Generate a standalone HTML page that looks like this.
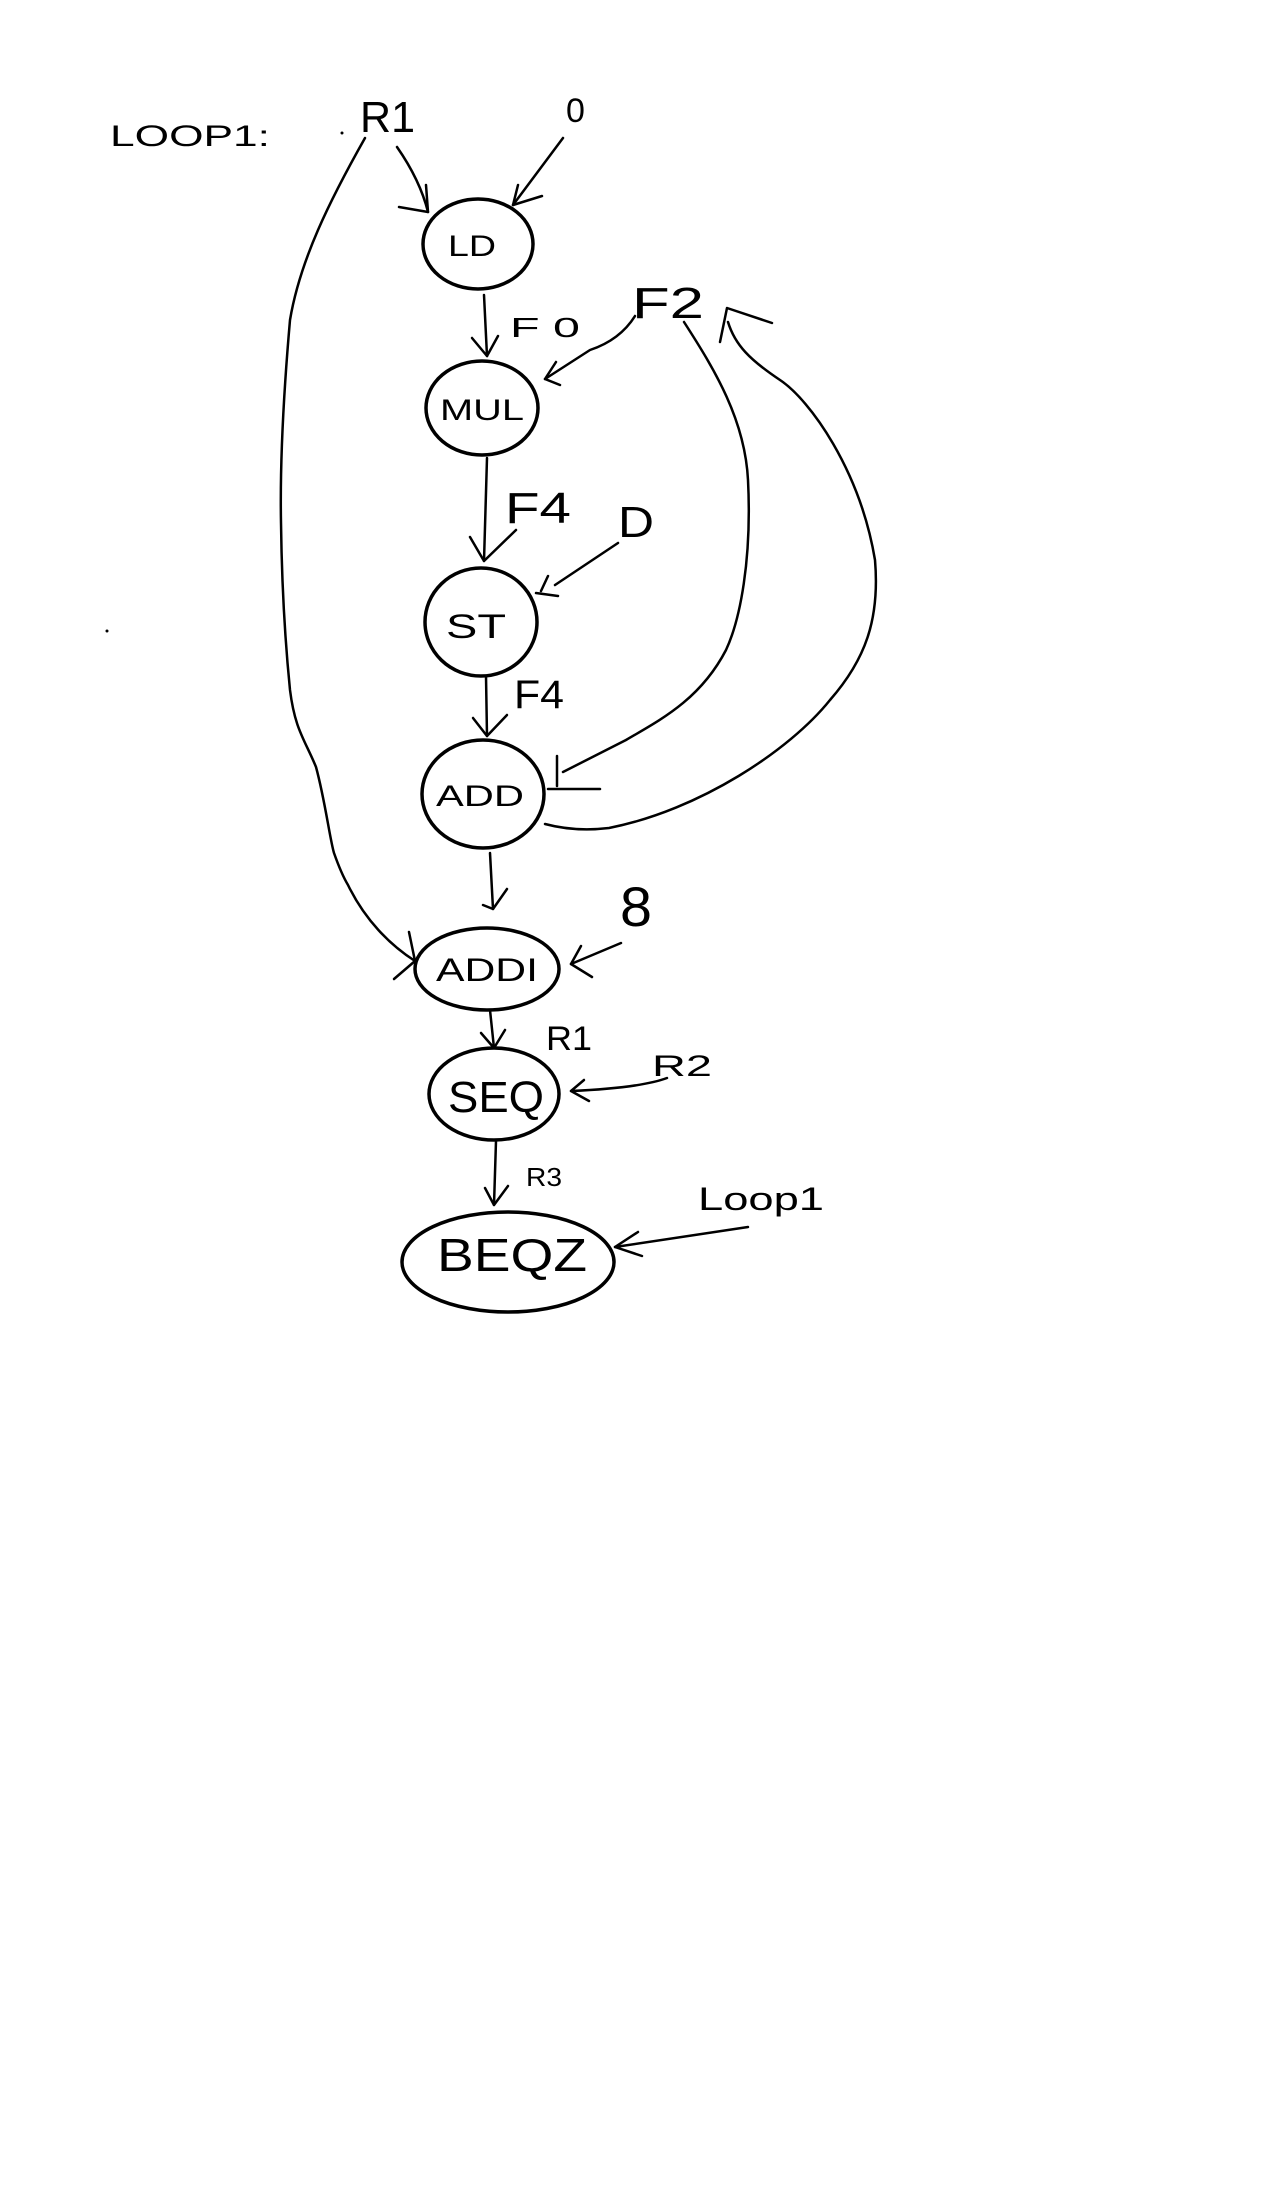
<!DOCTYPE html>
<html><head><meta charset="utf-8"><style>
html,body{margin:0;padding:0;background:#fff;}
svg{display:block;}
text{font-family:"Liberation Sans",sans-serif;fill:#000;}
</style></head><body>
<svg width="1264" height="2204" viewBox="0 0 1264 2204" xmlns="http://www.w3.org/2000/svg">
<rect width="1264" height="2204" fill="#fff"/>
<g fill="none" stroke="#000" stroke-width="3.5">
<ellipse cx="478" cy="244" rx="55" ry="45"/>
<ellipse cx="482" cy="408" rx="56" ry="47"/>
<ellipse cx="481" cy="622" rx="56" ry="54"/>
<ellipse cx="483" cy="794" rx="61" ry="54"/>
<ellipse cx="487" cy="969" rx="72" ry="41"/>
<ellipse cx="494" cy="1094" rx="65" ry="46"/>
<ellipse cx="508" cy="1262" rx="106" ry="50"/>
</g>
<g fill="none" stroke="#000" stroke-width="2.5" stroke-linecap="round" stroke-linejoin="round">
<!-- R1 -> LD -->
<path d="M397 147 Q420 180 428 212"/><path d="M399 207 L428 212 L426 185"/>
<!-- 0 -> LD -->
<path d="M563 138 L513 205"/><path d="M513 205 L542 196 M513 205 L518 185"/>
<!-- LD -> MUL -->
<path d="M484 295 L487 356"/><path d="M472 338 L487 356 L498 336"/>
<!-- F2 -> MUL -->
<path d="M635 316 Q620 340 590 350 L545 379"/><path d="M545 379 L556 362 M545 379 L560 385"/>
<!-- MUL -> ST -->
<path d="M487 458 L484 561"/><path d="M470 537 L484 561 L516 530"/>
<!-- D -> ST -->
<path d="M618 543 L555 585"/><path d="M536 593 L558 596 M541 591 L548 576"/>
<!-- ST -> ADD -->
<path d="M486 676 L487 736"/><path d="M473 718 L487 736 L507 715"/>
<!-- inner curve F2 -> ADD -->
<path d="M684 322 C715 370 745 420 748 480 C752 560 740 620 726 650 C700 700 660 720 626 740 L563 772"/>
<path d="M557 756 L557 786"/>
<!-- horizontal -->
<path d="M548 789 L600 789"/>
<!-- outer curve ADD -> F2 -->
<path d="M545 824 Q575 832 609 828 C700 810 790 750 830 700 C865 660 880 620 875 560 C860 470 810 400 780 380 C750 360 735 345 728 322"/>
<path d="M720 342 L727 308 L772 323"/>
<!-- ADD -> ADDI -->
<path d="M490 853 L493 909"/><path d="M483 905 L493 909 L507 889"/>
<!-- left curve R1 -> ADDI -->
<path d="M365 138 C330 200 300 260 290 320 C283 400 280 470 281 523 C282 600 286 650 290 690 C295 730 305 740 316 767 C325 800 330 840 334 853 C340 870 345 880 348 885 C365 920 390 945 415 961"/>
<path d="M409 932 L415 961 L394 979"/>
<!-- 8 -> ADDI -->
<path d="M621 943 L571 964"/><path d="M571 964 L592 977 M571 964 L581 946"/>
<!-- ADDI -> SEQ -->
<path d="M490 1010 L494 1048"/><path d="M481 1033 L494 1048 L505 1030"/>
<!-- R2 -> SEQ -->
<path d="M667 1078 Q640 1088 571 1091"/><path d="M571 1091 L589 1101 M571 1091 L584 1080"/>
<!-- SEQ -> BEQZ -->
<path d="M496 1141 L494 1205"/><path d="M485 1188 L494 1205 L508 1186"/>
<!-- Loop1 -> BEQZ -->
<path d="M748 1227 L615 1247"/><path d="M615 1247 L638 1232 M615 1247 L642 1256"/>
</g>
<circle cx="107" cy="631" r="1.5" fill="#000"/>
<circle cx="342" cy="133" r="1.5" fill="#000"/>
<g font-size="30">
<text x="110" y="146" font-size="30" textLength="160" lengthAdjust="spacingAndGlyphs">LOOP1:</text>
<text x="360" y="132" font-size="44" textLength="55" lengthAdjust="spacingAndGlyphs">R1</text>
<text x="566" y="122" font-size="34">0</text>
<text x="510" y="337" font-size="28" textLength="70" lengthAdjust="spacingAndGlyphs">F 0</text>
<text x="632" y="318" font-size="44" textLength="72" lengthAdjust="spacingAndGlyphs">F2</text>
<text x="505" y="523" font-size="44" textLength="66" lengthAdjust="spacingAndGlyphs">F4</text>
<text x="618" y="537" font-size="44" textLength="36" lengthAdjust="spacingAndGlyphs">D</text>
<text x="514" y="708" font-size="40" textLength="50" lengthAdjust="spacingAndGlyphs">F4</text>
<text x="620" y="926" font-size="56" textLength="32" lengthAdjust="spacingAndGlyphs">8</text>
<text x="546" y="1050" font-size="34" textLength="46" lengthAdjust="spacingAndGlyphs">R1</text>
<text x="652" y="1076" font-size="30" textLength="60" lengthAdjust="spacingAndGlyphs">R2</text>
<text x="526" y="1186" font-size="26" textLength="36" lengthAdjust="spacingAndGlyphs">R3</text>
<text x="698" y="1210" font-size="32" textLength="126" lengthAdjust="spacingAndGlyphs">Loop1</text>
<text x="448" y="256" font-size="30" textLength="48" lengthAdjust="spacingAndGlyphs">LD</text>
<text x="440" y="420" font-size="30" textLength="84" lengthAdjust="spacingAndGlyphs">MUL</text>
<text x="446" y="638" font-size="34" textLength="60" lengthAdjust="spacingAndGlyphs">ST</text>
<text x="436" y="806" font-size="30" textLength="88" lengthAdjust="spacingAndGlyphs">ADD</text>
<text x="436" y="981" font-size="32" textLength="102" lengthAdjust="spacingAndGlyphs">ADDI</text>
<text x="448" y="1112" font-size="44" textLength="96" lengthAdjust="spacingAndGlyphs">SEQ</text>
<text x="437" y="1271" font-size="46" textLength="150" lengthAdjust="spacingAndGlyphs">BEQZ</text>
</g>
</svg>
</body></html>
